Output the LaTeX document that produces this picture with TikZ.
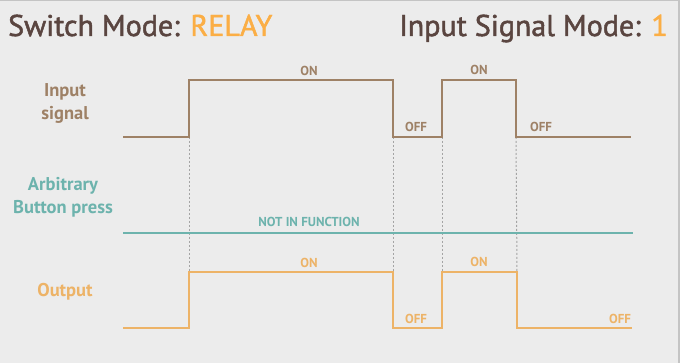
\documentclass[tikz,border=0pt]{standalone}
\usepackage{fontspec}
\setmainfont{PT Sans}
\newfontfamily\headfont[FakeBold=1.6]{PT Sans}
\usepackage{xcolor}
\usetikzlibrary{positioning,calc}
\definecolor{bgcol}{HTML}{ECECEC}
\definecolor{edgecol}{HTML}{C4C4C4}
\definecolor{titlecol}{HTML}{5A4540}
\definecolor{relaycol}{HTML}{FBAE45}
\definecolor{incol}{HTML}{9E8166}
\definecolor{btncol}{HTML}{6DB3AD}
\definecolor{outcol}{HTML}{EDB367}
\definecolor{guidecol}{HTML}{A4A4A4}
\tikzset{
  sig/.style={line width=2.8pt, line join=miter},
  guide/.style={guidecol, line width=1pt, dash pattern=on 2pt off 2pt},
  rowlabel/.style={font=\fontsize{18.5}{23}\selectfont\bfseries, align=center},
  level/.style={font=\fontsize{13}{14}\selectfont\bfseries, inner sep=0pt},
  title/.style={font=\headfont\fontsize{30}{32}\selectfont, text=titlecol, inner sep=0pt}
}
\begin{document}
\begin{tikzpicture}[x=1pt, y=-1pt]
\fill[bgcol] (0,0) rectangle (680,363);
\useasboundingbox (0,0) rectangle (680,363);
\draw[edgecol, line width=1pt] (0,0.5) -- (680,0.5);
\draw[edgecol, line width=2pt] (679,0) -- (679,363);

% header
\node[title, anchor=base west] (swmode) at (8,36) {Switch Mode: \textcolor{relaycol}{RELAY}};
\node[title, anchor=base east] (inmode) at (668,36) {Input Signal Mode: \textcolor{relaycol}{1}};

% row labels
\node[rowlabel, text=incol] (lin) at (65,103) {Input\\signal};
\node[rowlabel, text=btncol] (lbtn) at (63,197) {Arbitrary\\Button press};
\node[rowlabel, text=outcol] (lout) at (65,292) {Output};

% input signal
\coordinate (i0) at (123,137);
\coordinate (i1) at (189,137);
\coordinate (i2) at (189,80);
\coordinate (i3) at (393,80);
\coordinate (i4) at (393,137);
\coordinate (i5) at (442,137);
\coordinate (i6) at (442,80);
\coordinate (i7) at (516,80);
\coordinate (i8) at (516,137);
\coordinate (i9) at (631,137);

% output
\coordinate (o0) at (123,328);
\coordinate (o1) at (189,328);
\coordinate (o2) at (189,272);
\coordinate (o3) at (393,272);
\coordinate (o4) at (393,328);
\coordinate (o5) at (442,328);
\coordinate (o6) at (442,272);
\coordinate (o7) at (517,272);
\coordinate (o8) at (517,328);
\coordinate (o9) at (632,328);

% button
\coordinate (b0) at (123,233);
\coordinate (b1) at (633,233);

\draw[guide] (i1) -- (o2);
\draw[guide] (i4) -- (o3);
\draw[guide] (i5) -- (o6);
\draw[guide] (i8) -- (o7);

\draw[sig, incol] (i0) -- (i1) -- (i2) -- (i3) -- (i4) -- (i5) -- (i6) -- (i7) -- (i8) -- (i9);
\draw[sig, btncol] (b0) -- (b1);
\draw[sig, outcol] (o0) -- (o1) -- (o2) -- (o3) -- (o4) -- (o5) -- (o6) -- (o7) -- (o8) -- (o9);

\node[level, text=incol] (ion1) at (309,71) {ON};
\node[level, text=incol] (ioff1) at (416,127) {OFF};
\node[level, text=incol] (ion2) at (479,70) {ON};
\node[level, text=incol] (ioff2) at (541,127) {OFF};
\node[level, text=btncol] (nofn) at (309,222) {NOT IN FUNCTION};
\node[level, text=outcol] (oon1) at (309,263) {ON};
\node[level, text=outcol] (ooff1) at (416,319) {OFF};
\node[level, text=outcol] (oon2) at (479,262) {ON};
\node[level, text=outcol] (ooff2) at (620,319) {OFF};
\end{tikzpicture}
\end{document}
